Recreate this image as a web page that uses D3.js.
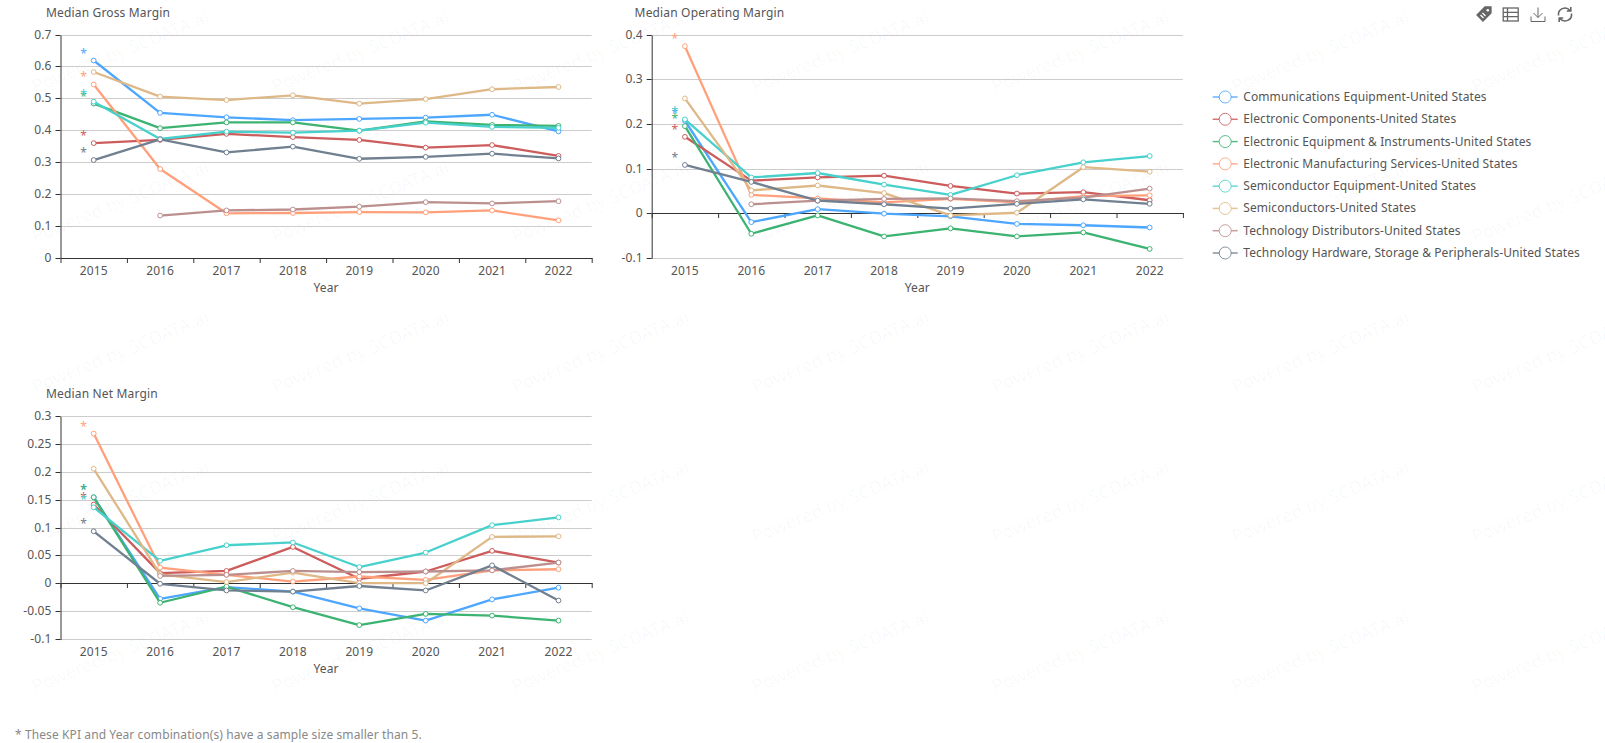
<!DOCTYPE html>
<html>
<head>
<meta charset="utf-8">
<script src="https://cdnjs.cloudflare.com/ajax/libs/d3/7.8.5/d3.min.js"></script>
<style>
html,body{margin:0;padding:0;background:#fff;overflow:hidden}
svg{display:block}
text{font-family:"Noto Sans",sans-serif;letter-spacing:.1px}
</style>
</head>
<body>
<svg id="c" width="1605" height="743"></svg>
<script>
const years = ["2015","2016","2017","2018","2019","2020","2021","2022"];
const seriesNames = [
  "Communications Equipment-United States",
  "Electronic Components-United States",
  "Electronic Equipment & Instruments-United States",
  "Electronic Manufacturing Services-United States",
  "Semiconductor Equipment-United States",
  "Semiconductors-United States",
  "Technology Distributors-United States",
  "Technology Hardware, Storage & Peripherals-United States"
];
const seriesColors = ["#4da6ff","#cd5c5c","#3cb371","#ffa07a","#48d1cc","#deb887","#bc8f8f","#708090"];
const starred2015 = [true,true,true,true,true,false,false,true];

const grossMargin = [
  [.620,.456,.442,.433,.437,.441,.450,.398],
  [.361,.371,.390,.380,.371,.347,.355,.321],
  [.485,.408,.426,.426,.400,.429,.418,.415],
  [.545,.280,.141,.142,.145,.144,.150,.119],
  [.491,.374,.397,.394,.400,.425,.412,.409],
  [.584,.507,.496,.511,.485,.499,.530,.537],
  [null,.134,.150,.153,.162,.176,.172,.179],
  [.308,.373,.332,.350,.312,.318,.328,.313]
];
const operatingMargin = [
  [.208,-.019,.010,.000,-.006,-.023,-.026,-.031],
  [.172,.074,.081,.085,.062,.045,.048,.030],
  [.196,-.045,-.004,-.051,-.033,-.051,-.042,-.079],
  [.375,.042,.034,.025,.033,.025,.039,.041],
  [.211,.081,.091,.065,.042,.086,.115,.129],
  [.258,.052,.063,.046,-.004,.002,.104,.094],
  [null,.021,.029,.033,.034,.028,.036,.056],
  [.109,.071,.029,.021,.011,.022,.032,.022]
];
const netMargin = [
  [.155,-.027,-.006,-.014,-.044,-.066,-.028,-.007],
  [.142,.019,.023,.066,.009,.022,.059,.038],
  [.155,-.034,-.005,-.042,-.074,-.054,-.057,-.066],
  [.269,.029,.016,.004,.013,.007,.024,.026],
  [.137,.041,.069,.074,.030,.056,.105,.119],
  [.206,.017,.003,.020,.001,.001,.084,.085],
  [null,.014,.016,.023,.021,.022,.024,.038],
  [.094,.000,-.012,-.014,-.004,-.012,.033,-.030]
];
const grossTicks = [0,.1,.2,.3,.4,.5,.6,.7];
const operatingTicks = [-.1,0,.1,.2,.3,.4];
const netTicks = [-.1,-.05,0,.05,.1,.15,.2,.25,.3];
const footnote = "* These KPI and Year combination(s) have a sample size smaller than 5.";
const watermark = "Powered by SCDATA.ai";

const svg = d3.select("#c");

// watermark
const wm = svg.append("g");
for (let row = 0; row < 5; row++) for (let col = 0; col < 7; col++) {
  const x = 35 + col*240, y = 93 + row*150;
  wm.append("text").attr("transform",`translate(${x},${y}) rotate(-22)`)
    .attr("font-size",18).attr("fill","#000").attr("fill-opacity",.03).text(watermark);
}

function panel(o){
  const g = svg.append("g");
  const x = d3.scaleBand().domain(years).range([o.left,o.left+531.2]);
  const y = d3.scaleLinear().domain([o.ticks[0],o.ticks[o.ticks.length-1]]).range([o.bottom,o.top]);
  const fmt = d => String(+d.toFixed(2));
  const snap = d => Math.floor(y(d)+.1)+.5;

  g.append("text").attr("x",o.titleX).attr("y",o.top-18).attr("font-size",12).attr("fill","#555")
    .style("letter-spacing",".16px").text(o.title);

  // gridlines
  g.append("g").selectAll("line").data(o.ticks).join("line")
    .attr("x1",o.left).attr("x2",o.left+531.2)
    .attr("y1",snap).attr("y2",snap)
    .attr("stroke","#ccc").attr("stroke-width",1);

  // y axis
  const ya = g.append("g").attr("transform",`translate(${o.left},0)`)
    .call(d3.axisLeft(y).tickValues(o.ticks).tickFormat(fmt).tickSize(5).tickSizeOuter(0).tickPadding(4));
  ya.selectAll(".tick").attr("transform",d=>`translate(0,${snap(d)})`);
  ya.selectAll("path,line").attr("stroke","#333");
  ya.selectAll("text").attr("fill","#555").attr("font-size",12).attr("font-family",'"Noto Sans",sans-serif')
    .attr("dy","0.25em");

  // x axis at zero with ticks on band boundaries
  const bound = d3.scaleLinear().domain([0,years.length]).range(x.range());
  const xa = g.append("g").attr("transform",`translate(0,${snap(0)-.5})`)
    .call(d3.axisBottom(bound).tickValues(d3.range(0,years.length+1)).tickFormat("").tickSize(5).tickSizeOuter(0));
  xa.selectAll("path,line").attr("stroke","#333");

  // x labels at the grid bottom
  const xl = g.append("g").attr("transform",`translate(0,${o.bottom})`)
    .call(d3.axisBottom(x).tickSize(0).tickPadding(8));
  xl.select("path").remove();
  xl.selectAll("text").attr("fill","#555").attr("font-size",12).attr("font-family",'"Noto Sans",sans-serif');

  g.append("text").attr("x",o.left+265.6).attr("y",o.bottom+33.5).attr("text-anchor","middle")
    .attr("font-size",12).attr("fill","#555").text("Year");

  const line = d3.line().defined(d=>d.v!==null).x(d=>x(d.k)+x.bandwidth()/2).y(d=>y(d.v));
  o.data.forEach((vals,i)=>{
    const pts = vals.map((v,j)=>({k:years[j],v}));
    g.append("path").datum(pts).attr("d",line).attr("fill","none")
      .attr("stroke",seriesColors[i]).attr("stroke-width",2.3).attr("stroke-linejoin","round");
    g.append("g").selectAll("circle").data(pts.filter(d=>d.v!==null)).join("circle")
      .attr("cx",d=>x(d.k)+x.bandwidth()/2).attr("cy",d=>y(d.v)).attr("r",2.4)
      .attr("fill","#fff").attr("stroke",seriesColors[i]).attr("stroke-width",1);
    if (starred2015[i] && vals[0]!==null) {
      g.append("text").attr("x",x(years[0])+x.bandwidth()/2-10).attr("y",y(vals[0])-10+7)
        .attr("text-anchor","middle").attr("font-size",12).attr("fill",seriesColors[i]).text("*");
    }
  });
}

panel({title:"Median Gross Margin",data:grossMargin,ticks:grossTicks,left:60.5,titleX:46,top:35,bottom:258.3});
panel({title:"Median Operating Margin",data:operatingMargin,ticks:operatingTicks,left:651.7,titleX:634.6,top:35,bottom:258.3});
panel({title:"Median Net Margin",data:netMargin,ticks:netTicks,left:60.5,titleX:46,top:416.3,bottom:639.6});

// legend
const legendY = d3.scalePoint().domain(seriesNames).range([97,253]);
const lg = svg.append("g").selectAll("g").data(seriesNames).join("g")
  .attr("transform",d=>`translate(1212.7,${legendY(d)})`);
lg.append("line").attr("x1",0).attr("x2",25).attr("stroke",(d,i)=>seriesColors[i]).attr("stroke-width",1.5).attr("stroke-opacity",.85);
lg.append("circle").attr("cx",12.5).attr("r",6).attr("fill","#fff").attr("stroke",(d,i)=>seriesColors[i]).attr("stroke-width",1).attr("stroke-opacity",.85);
lg.append("text").attr("x",30.5).attr("y",4).attr("font-size",12).attr("fill","#555").text(d=>d);

// footnote
svg.append("text").attr("x",15).attr("y",739).attr("font-size",12).attr("fill","#888").text(footnote);

// toolbox icons
const ic = svg.append("g").attr("fill","none").attr("stroke","#666").attr("stroke-width",1.3);
const tag = ic.append("g").attr("transform","translate(1484,14)");
tag.append("path").attr("d","M-7 1 L1-7 L7-7 L7-1 L-1 7 Z").attr("fill","#666");
tag.append("circle").attr("cx",3.8).attr("cy",-3.8).attr("r",1.3).attr("fill","#fff").attr("stroke","none");
tag.append("path").attr("d","M-3.5 1 L-0.5 4 M-1.5-1 L1.5 2").attr("stroke","#fff");
const tb = ic.append("g").attr("transform","translate(1510.7,14.5)");
tb.append("rect").attr("x",-7.5).attr("y",-6.5).attr("width",15).attr("height",13);
tb.append("path").attr("d","M-7.5-2.2H7.5 M-7.5 2.2H7.5 M-3.2-6.5V6.5");
const dl = ic.append("g").attr("transform","translate(1538,14.5)").attr("stroke-width",1);
dl.append("path").attr("d","M-7 2V7H7V2 M0-7V3 M-4.5-1.5L0 3 L4.5-1.5");
const rf = ic.append("g").attr("transform","translate(1565,14.5)").attr("stroke-width",1.6);
rf.append("path").attr("d","M-6.5 1A6.5 6.5 0 0 1 5-4 M6.5-1A6.5 6.5 0 0 1-5 4 M5.8-7.5V-3.5H1.8 M-5.8 7.5V3.5H-1.8");
</script>
</body>
</html>
